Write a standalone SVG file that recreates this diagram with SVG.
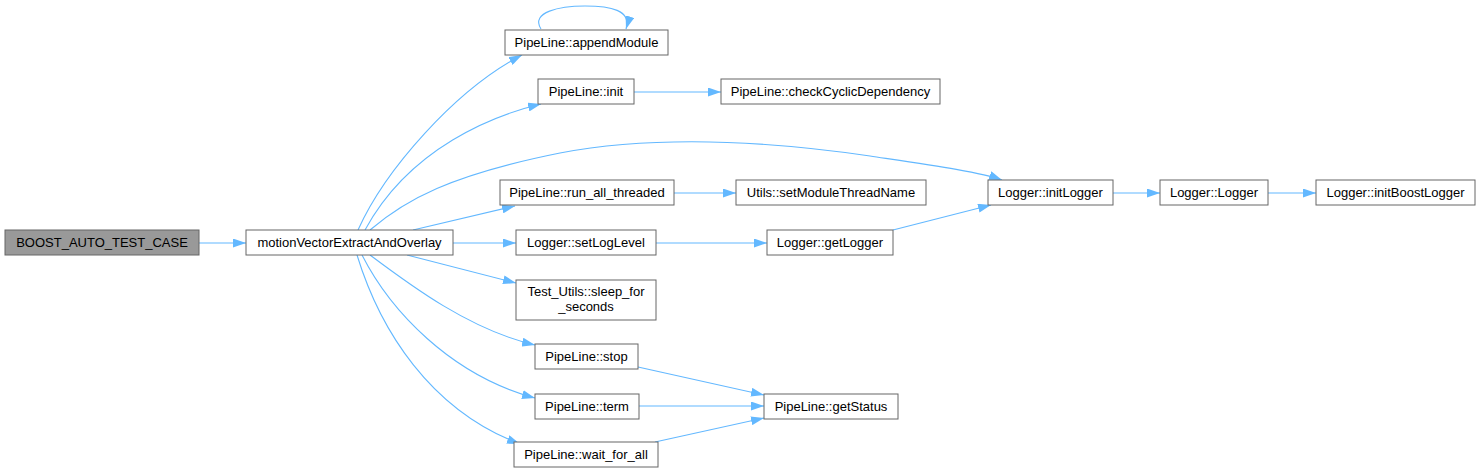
<svg xmlns="http://www.w3.org/2000/svg" width="1480" height="474" viewBox="0 0 1480 474">
<style>
.n rect{fill:#ffffff;stroke:#666666;stroke-width:1}
.n.g rect{fill:#999999}
.n text{font-family:"Liberation Sans",Arial,Helvetica,sans-serif;font-size:13px;fill:#000000;text-anchor:middle}
.e path{fill:none;stroke:#63b8ff;stroke-width:1.1;marker-end:url(#ah)}
</style>
<defs>
<marker id="ah" viewBox="0 0 13 9" markerWidth="13" markerHeight="9" refX="13" refY="4.5" orient="auto" markerUnits="userSpaceOnUse">
<path d="M0,0 L13,4.5 L0,9 z" fill="#63b8ff" stroke="none"/>
</marker>
</defs>
<rect width="1480" height="474" fill="#ffffff"/>
<g id="edges" class="e">
<path d="M199,243 L246,243"/>
<path d="M358,230 C385,170 455,90 522,55"/>
<path d="M541,29 C530,12 560,6 585,6 C610,6 632,10 626,29"/>
<path d="M365,230 C410,147 495,115 541,104"/>
<path d="M370,230 C405,200 450,175 560,153 C640,138 740,137 870,156 C930,165 980,172 1002,180"/>
<path d="M413,230 L515,206"/>
<path d="M453,243 L516,243"/>
<path d="M407,255 L516,283"/>
<path d="M370,255 C410,285 470,330 535,345"/>
<path d="M362,255 C390,310 450,375 535,398"/>
<path d="M357,255 C380,330 430,410 520,444"/>
<path d="M634,92 L721,92"/>
<path d="M674,193 L736,193"/>
<path d="M1113,193 L1160,193"/>
<path d="M1268,193 L1316,193"/>
<path d="M656,243 L767,243"/>
<path d="M893,230 L991,205"/>
<path d="M638,367 L764,395"/>
<path d="M639,406 L764,406"/>
<path d="M655,442 L764,418"/>
</g>
<g id="n_boost" class="n g"><rect x="5" y="230" width="194" height="25"/><text x="102" y="247">BOOST_AUTO_TEST_CASE</text></g>
<g id="n_motion" class="n"><rect x="246" y="230" width="207" height="25"/><text x="349.5" y="247">motionVectorExtractAndOverlay</text></g>
<g id="n_append" class="n"><rect x="505" y="30" width="163" height="25"/><text x="586.5" y="47">PipeLine::appendModule</text></g>
<g id="n_init" class="n"><rect x="538" y="79" width="96" height="25"/><text x="586" y="96">PipeLine::init</text></g>
<g id="n_cyclic" class="n"><rect x="721" y="79" width="219" height="25"/><text x="830.5" y="96">PipeLine::checkCyclicDependency</text></g>
<g id="n_runall" class="n"><rect x="500" y="180" width="174" height="25"/><text x="587" y="197">PipeLine::run_all_threaded</text></g>
<g id="n_setthread" class="n"><rect x="736" y="180" width="190" height="25"/><text x="831" y="197">Utils::setModuleThreadName</text></g>
<g id="n_initlogger" class="n"><rect x="988" y="180" width="125" height="25"/><text x="1050.5" y="197">Logger::initLogger</text></g>
<g id="n_logger" class="n"><rect x="1160" y="180" width="108" height="25"/><text x="1214" y="197">Logger::Logger</text></g>
<g id="n_initboost" class="n"><rect x="1316" y="180" width="159" height="25"/><text x="1395.5" y="197">Logger::initBoostLogger</text></g>
<g id="n_setlog" class="n"><rect x="516" y="230" width="140" height="25"/><text x="586" y="247">Logger::setLogLevel</text></g>
<g id="n_getlogger" class="n"><rect x="767" y="230" width="126" height="25"/><text x="830" y="247">Logger::getLogger</text></g>
<g id="n_sleep" class="n"><rect x="516" y="280" width="140" height="40"/><text x="586" y="296">Test_Utils::sleep_for</text><text x="586" y="311">_seconds</text></g>
<g id="n_stop" class="n"><rect x="535" y="344" width="103" height="25"/><text x="586.5" y="361">PipeLine::stop</text></g>
<g id="n_term" class="n"><rect x="535" y="394" width="104" height="25"/><text x="587" y="411">PipeLine::term</text></g>
<g id="n_getstatus" class="n"><rect x="764" y="394" width="134" height="25"/><text x="831" y="411">PipeLine::getStatus</text></g>
<g id="n_waitall" class="n"><rect x="514" y="442" width="144" height="25"/><text x="586" y="459">PipeLine::wait_for_all</text></g>
</svg>
